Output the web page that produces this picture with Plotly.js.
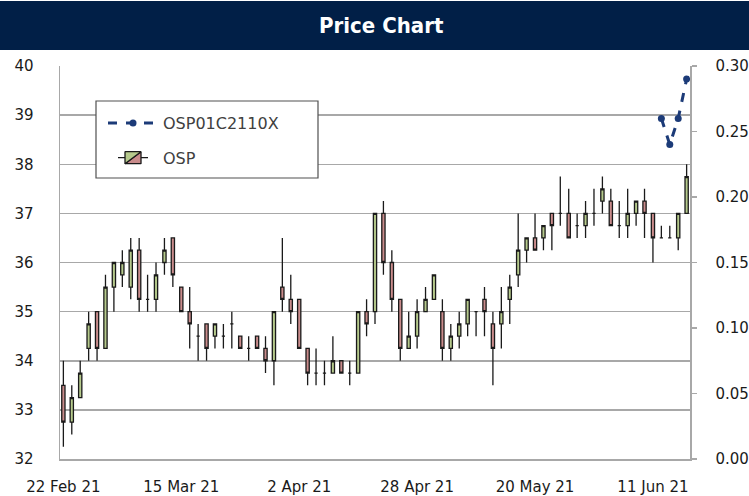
<!DOCTYPE html>
<html>
<head>
<meta charset="utf-8">
<script src="https://cdn.plot.ly/plotly-3.0.1.min.js"></script>
<style>html,body{margin:0;padding:0;background:#fff;}#chart{width:749px;height:496px;}</style>
</head>
<body>
<div id="chart"></div>
<script>
// OSP daily candles (trading-day index order)
const ospOpen  = [33.5,32.75,33.25,34.25,35.0,34.25,35.5,35.75,35.5,36.25,35.25,35.25,36.0,36.5,35.5,35.0,34.5,34.75,34.5,34.5,34.75,34.5,34.25,34.5,34.25,34.0,35.5,35.25,35.25,34.25,33.75,33.75,33.75,34.0,33.75,33.75,35.0,35.0,37.0,36.0,35.25,34.25,34.5,35.0,35.25,35.0,34.25,34.5,34.75,35.0,35.25,34.75,34.75,35.25,35.75,36.25,36.5,36.5,37.0,37.0,37.0,36.75,36.75,37.0,37.25,37.25,36.75,36.75,37.0,37.25,37.0,36.5,36.5,36.5,37.0];
const ospHigh  = [34.0,33.5,34.0,35.0,35.0,35.75,36.0,36.25,36.5,36.5,35.75,36.0,36.5,36.5,35.5,35.5,34.75,34.75,34.75,34.75,35.0,34.5,34.5,34.5,34.5,35.0,36.5,35.75,35.25,34.25,34.25,34.0,34.5,34.0,34.0,35.0,35.25,37.0,37.25,36.25,35.25,35.0,35.25,35.5,35.75,35.25,34.75,35.0,35.25,35.0,35.5,35.0,35.5,35.75,37.0,36.5,37.0,36.75,37.0,37.75,37.5,37.0,37.25,37.5,37.75,37.5,37.25,37.5,37.25,37.5,37.0,36.75,36.75,37.0,38.0];
const ospLow   = [32.25,32.5,33.25,34.0,34.0,34.25,35.0,35.5,35.25,35.0,35.0,35.0,35.75,35.5,35.0,34.25,34.0,34.0,34.25,34.25,34.25,34.25,34.0,34.25,33.75,33.5,35.0,34.75,34.25,33.5,33.5,33.5,33.75,33.75,33.5,33.75,34.5,34.75,35.75,35.0,34.0,34.25,34.25,35.0,35.25,34.0,34.0,34.25,34.5,34.5,34.5,33.5,34.25,34.75,35.5,36.0,36.25,36.25,36.25,36.75,36.5,36.5,36.5,36.75,37.0,36.75,36.5,36.5,36.75,36.5,36.0,36.5,36.5,36.25,37.0];
const ospClose = [32.75,33.25,33.75,34.75,34.25,35.5,36.0,36.0,36.25,35.25,35.25,35.75,36.25,35.75,35.0,34.75,34.5,34.25,34.75,34.5,34.75,34.25,34.25,34.25,34.0,35.0,35.25,35.0,34.25,33.75,33.75,33.75,34.0,33.75,33.75,35.0,34.75,37.0,36.0,35.25,34.25,34.5,35.0,35.25,35.75,34.25,34.5,34.75,35.25,35.0,35.0,34.25,35.0,35.5,36.25,36.5,36.25,36.75,36.75,37.0,36.5,36.75,37.0,37.0,37.5,36.75,36.75,37.0,37.25,37.0,36.5,36.5,36.5,37.0,37.75];
const dayIndex = ospOpen.map((_, i) => i);

// OSP01C2110X (right axis) - last four trading days
const spreadDay    = [71, 72, 73, 74];
const spreadValues = [0.26, 0.24, 0.26, 0.29];

// x tick labels and the trading-day index where each sits
const tickDays   = [0, 14, 28, 42, 56, 70];
const tickLabels = ['22 Feb 21', '15 Mar 21', '2 Apr 21', '28 Apr 21', '20 May 21', '11 Jun 21'];

const axisFont = {family: 'DejaVu Sans, sans-serif', size: 15, color: '#1a1a1a'};
const gridCol = '#a8a8a8';

const traces = [
  {
    type: 'scatter', mode: 'lines+markers', name: 'OSP01C2110X',
    x: spreadDay, y: spreadValues, yaxis: 'y2', legendgroup: 'a',
    line: {color: '#1c3b78', width: 3, dash: 'dash'},
    marker: {color: '#1c3b78', size: 7},
    hoverinfo: 'skip'
  },
  {
    type: 'candlestick', name: 'OSP', legendgroup: 'b',
    x: dayIndex, open: ospOpen, high: ospHigh, low: ospLow, close: ospClose,
    increasing: {fillcolor: '#b6ca8c', line: {color: '#1a1a1a', width: 1.3}},
    decreasing: {fillcolor: '#c98b8b', line: {color: '#1a1a1a', width: 1.3}},
    whiskerwidth: 0,
    hoverinfo: 'skip'
  }
];

const layout = {
  width: 749, height: 496,
  margin: {l: 60, r: 59, t: 66, b: 37},
  paper_bgcolor: '#ffffff', plot_bgcolor: '#ffffff',
  boxgap: 0.45,
  title: {
    text: '<b>Price Chart</b>', x: 0.509, xanchor: 'center',
    y: 1 - 25 / 496, yanchor: 'middle', yref: 'container',
    font: {family: 'DejaVu Sans Condensed, Liberation Sans Narrow, sans-serif', size: 22, color: '#ffffff'}
  },
  showlegend: true,
  legend: {
    x: (103 - 60) / 630, y: 1 - (106 - 66) / 393, xanchor: 'left', yanchor: 'top',
    bgcolor: 'rgba(0,0,0,0)', borderwidth: 0,
    font: {family: 'DejaVu Sans, sans-serif', size: 16, color: '#404040'},
    itemwidth: 50, traceorder: 'grouped', tracegroupgap: 11
  },
  xaxis: {
    range: [-0.4, 74.4], tickmode: 'array', tickvals: tickDays, ticktext: tickLabels,
    showgrid: false, zeroline: false, showline: true, linecolor: gridCol, linewidth: 1.5,
    mirror: false, ticks: '', tickfont: axisFont, ticklabelstandoff: 13,
    rangeslider: {visible: false}, fixedrange: true
  },
  yaxis: {
    range: [32, 40], tick0: 32, dtick: 1, showgrid: true, gridcolor: gridCol, gridwidth: 1.5,
    zeroline: false, showline: true, linecolor: gridCol, linewidth: 1.5, ticks: '',
    tickfont: axisFont, ticklabelstandoff: 22
  },
  yaxis2: {
    overlaying: 'y', side: 'right', range: [0, 0.30], tick0: 0, dtick: 0.05, tickformat: '.2f',
    showgrid: false, zeroline: false, showline: true, linecolor: gridCol, linewidth: 1.5,
    ticks: 'outside', ticklen: 5, tickcolor: gridCol, tickwidth: 1.5, tickfont: axisFont,
    ticklabelstandoff: 16
  },
  shapes: [
    {type: 'rect', xref: 'paper', yref: 'paper', layer: 'above',
     x0: -60 / 630, x1: 689 / 630, y0: 1 + 16 / 393, y1: 1 + 65 / 393,
     fillcolor: '#011f47', line: {width: 0}},
    {type: 'rect', xref: 'paper', yref: 'paper', layer: 'above',
     x0: (96 - 60) / 630, x1: (318 - 60) / 630, y0: 1 - (178 - 66) / 393, y1: 1 - (101 - 66) / 393,
     fillcolor: '#ffffff', line: {color: '#505050', width: 1.2}}
  ]
};

Plotly.newPlot('chart', traces, layout, {staticPlot: true, displayModeBar: false});
</script>
</body>
</html>
